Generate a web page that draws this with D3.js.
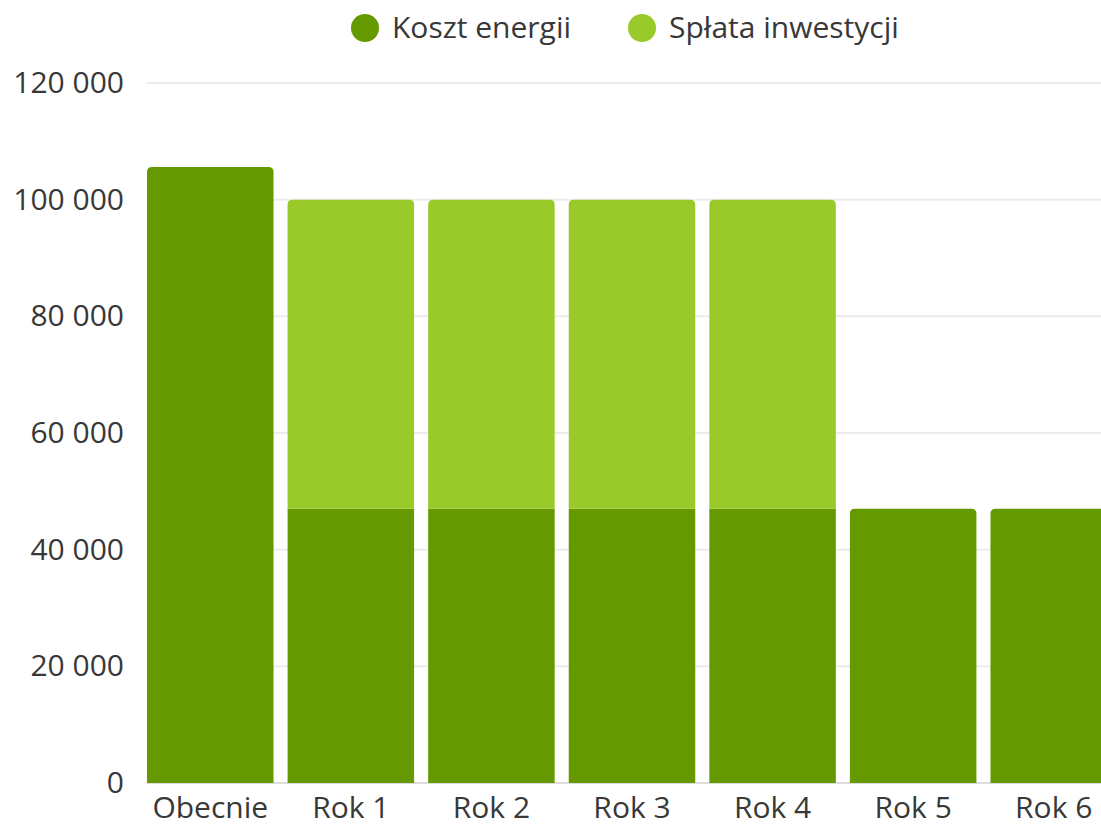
<!DOCTYPE html>
<html>
<head>
<meta charset="utf-8">
<script src="https://cdn.jsdelivr.net/npm/d3@7"></script>
<style>
  body { margin: 0; background: #fff; }
  svg { display: block; font-family: "Open Sans", sans-serif; }
</style>
</head>
<body>
<div id="chart"></div>
<script>
var categories = ['Obecnie', 'Rok 1', 'Rok 2', 'Rok 3', 'Rok 4', 'Rok 5', 'Rok 6'];
var energyCost = [105600, 47000, 47000, 47000, 47000, 47000, 47000];
var investment = [0, 53000, 53000, 53000, 53000, 0, 0];
var yTicks = [0, 20000, 40000, 60000, 80000, 100000, 120000];
var seriesNames = ['Koszt energii', 'Spłata inwestycji'];
var seriesColors = ['#669900', '#9aca2a'];

var W = 1101, H = 825;

var svg = d3.select('#chart').append('svg')
  .attr('width', W)
  .attr('height', H);

// band layout: first bar starts at the gridlines' left edge, last one runs off the page
var x = d3.scaleBand()
  .domain(categories)
  .range([147, 1117])
  .paddingInner(0.1)
  .paddingOuter(0);

var y = d3.scaleLinear()
  .domain([0, 120000])
  .range([783, 83]);

var fmt = function(d) { return d3.format(',')(d).replace(/,/g, ' '); };

// gridlines
svg.append('g').selectAll('line')
  .data(yTicks)
  .enter().append('line')
  .attr('x1', 147)
  .attr('x2', W)
  .attr('y1', function(d) { return y(d); })
  .attr('y2', function(d) { return y(d); })
  .style('stroke', function(d) { return d === 0 ? '#dcdcdc' : '#ececec'; })
  .style('stroke-width', 2);

// y labels
var yAxis = d3.axisLeft(y).tickValues(yTicks).tickFormat(fmt).tickSize(0).tickPadding(0);
svg.append('g')
  .attr('transform', 'translate(124,0)')
  .call(yAxis)
  .call(function(g) { g.select('.domain').remove(); })
  .selectAll('text')
  .style('font-size', '30px')
  .style('font-family', '"Open Sans", sans-serif')
  .style('fill', '#383838');

// stacked data
var rows = categories.map(function(c, i) {
  return { cat: c, energy: energyCost[i], invest: investment[i] };
});
var stack = d3.stack().keys(['energy', 'invest'])(rows);

var r = 5;
function barPath(x0, w, yTop, yBot, rounded) {
  if (!rounded) {
    return 'M' + x0 + ',' + yBot + 'V' + yTop + 'H' + (x0 + w) + 'V' + yBot + 'Z';
  }
  return 'M' + x0 + ',' + yBot +
    'V' + (yTop + r) +
    'Q' + x0 + ',' + yTop + ' ' + (x0 + r) + ',' + yTop +
    'H' + (x0 + w - r) +
    'Q' + (x0 + w) + ',' + yTop + ' ' + (x0 + w) + ',' + (yTop + r) +
    'V' + yBot + 'Z';
}

stack.forEach(function(layer, li) {
  svg.append('g').selectAll('path')
    .data(layer.filter(function(d) { return d[1] > d[0]; }))
    .enter().append('path')
    .attr('d', function(d) {
      var isTop = li === stack.length - 1 || d.data.invest === 0;
      return barPath(x(d.data.cat), x.bandwidth(), y(d[1]), y(d[0]), isTop);
    })
    .style('fill', seriesColors[li]);
});

// x labels
svg.append('g').selectAll('text')
  .data(categories)
  .enter().append('text')
  .attr('x', function(d) { return x(d) + x.bandwidth() / 2; })
  .attr('y', 818)
  .attr('text-anchor', 'middle')
  .style('font-size', '30px')
  .style('fill', '#383838')
  .text(function(d) { return d; });

// legend
var legendX = [365, 642];
var legend = svg.append('g').selectAll('g')
  .data(seriesNames)
  .enter().append('g')
  .attr('transform', function(d, i) { return 'translate(' + legendX[i] + ',28)'; });

legend.append('circle')
  .attr('r', 14)
  .style('fill', function(d, i) { return seriesColors[i]; });

legend.append('text')
  .attr('x', 27)
  .attr('y', 10)
  .style('font-size', '30px')
  .style('fill', '#383838')
  .text(function(d) { return d; });
</script>
</body>
</html>
